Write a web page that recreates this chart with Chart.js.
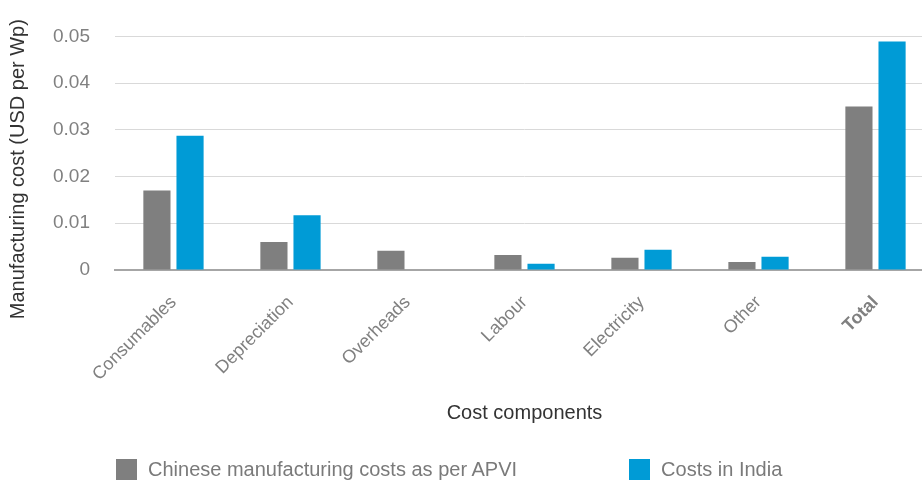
<!DOCTYPE html>
<html lang="en">
<head>
  <meta charset="UTF-8">
  <title>Manufacturing cost components</title>
  <script src="https://cdn.jsdelivr.net/npm/chart.js"></script>
  <style>
    body { margin: 0; background: #fff; overflow: hidden; }
    #wrap { position: relative; width: 922px; height: 481px; overflow: hidden; }
    #legend { position: absolute; top: 458px; left: 116px; display: flex; font: 20px "Liberation Sans", Arial, sans-serif; color: #7a7a7a; }
    #legend span.item { display: flex; align-items: center; }
    #legend span.box { display: inline-block; width: 21px; height: 21px; margin-right: 11px; }
  </style>
</head>
<body>
  <div id="wrap">
    <canvas id="costChart" width="934" height="481"></canvas>
    <div id="legend"></div>
  </div>

  <script>
    const categories = ['Consumables', 'Depreciation', 'Overheads', 'Labour', 'Electricity', 'Other', 'Total'];
    const chinaCosts = [0.017, 0.006, 0.0041, 0.0032, 0.0026, 0.0017, 0.035];
    const indiaCosts = [0.0287, 0.0117, null, 0.0013, 0.0043, 0.0028, 0.0489];
    const yTicks = [0, 0.01, 0.02, 0.03, 0.04, 0.05];

    const seriesNames = ['Chinese manufacturing costs as per APVI', 'Costs in India'];
    const seriesColors = ['#7f7f7f', '#009bd6'];
    const yTitle = 'Manufacturing cost (USD per Wp)';
    const fontFamily = '"Liberation Sans", Arial, sans-serif';

    // Excel puts the value-axis title a bit below the plot centre, so draw it ourselves
    const yTitlePlugin = {
      id: 'yTitle',
      afterDraw(chart) {
        const { ctx, chartArea, scales } = chart;
        ctx.save();
        ctx.translate(scales.y.left + 18, (chartArea.top + chartArea.bottom) / 2 + 16);
        ctx.rotate(-Math.PI / 2);
        ctx.font = '20px ' + fontFamily;
        ctx.fillStyle = '#333';
        ctx.textAlign = 'center';
        ctx.textBaseline = 'middle';
        ctx.fillText(yTitle, 0, 0);
        ctx.restore();
      }
    };

    const chart = new Chart(document.getElementById('costChart'), {
      type: 'bar',
      data: {
        labels: categories,
        datasets: [
          { label: seriesNames[0], data: chinaCosts, backgroundColor: seriesColors[0] },
          { label: seriesNames[1], data: indiaCosts, backgroundColor: seriesColors[1] }
        ]
      },
      options: {
        responsive: false,
        animation: false,
        layout: { padding: { top: 18, right: 0, bottom: 52, left: 0 } },
        datasets: { bar: { categoryPercentage: 0.566, barPercentage: 0.82 } },
        plugins: {
          legend: { display: false },
          tooltip: { enabled: false }
        },
        scales: {
          x: {
            grid: { display: false },
            border: { color: '#a6a6a6', width: 2 },
            ticks: {
              color: '#808080',
              maxRotation: 45,
              minRotation: 45,
              padding: 14,
              font: ctx => ({ family: fontFamily, size: 18, weight: ctx.index === 6 ? 'bold' : 'normal' })
            },
            title: {
              display: true,
              text: 'Cost components',
              color: '#333',
              font: { family: fontFamily, size: 20 },
              padding: { top: 2 }
            }
          },
          y: {
            min: 0,
            max: 0.05,
            afterBuildTicks: axis => { axis.ticks = yTicks.map(v => ({ value: v })); },
            grid: { color: '#d9d9d9', drawTicks: false },
            border: { display: false },
            ticks: {
              color: '#808080',
              padding: 25,
              font: { family: fontFamily, size: 19 },
              callback: v => v === 0 ? '0' : v.toFixed(2)
            },
            title: {
              display: true,
              text: yTitle,
              color: 'transparent',
              font: { family: fontFamily, size: 20 },
              padding: { top: 0, bottom: 4 }
            }
          }
        }
      },
      plugins: [yTitlePlugin]
    });

    const legend = document.getElementById('legend');
    chart.data.datasets.forEach((ds, i) => {
      legend.insertAdjacentHTML('beforeend',
        `<span class="item" style="margin-right:${i === 0 ? 112 : 0}px"><span class="box" style="background:${ds.backgroundColor}"></span>${ds.label}</span>`);
    });
  </script>
</body>
</html>
